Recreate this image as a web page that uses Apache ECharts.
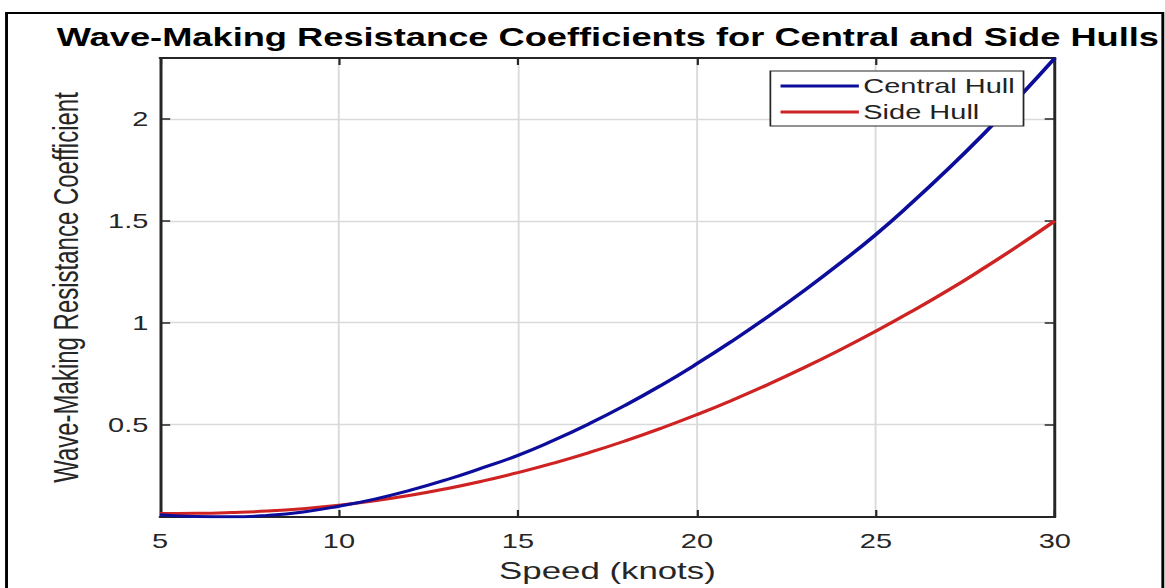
<!DOCTYPE html>
<html>
<head>
<meta charset="utf-8">
<title>Wave-Making Resistance Coefficients</title>
<script src="https://cdn.jsdelivr.net/npm/echarts@6/dist/echarts.min.js"></script>
<style>
  html, body { margin: 0; padding: 0; background: #fff; overflow: hidden; }
  /* the source picture is stretched sideways, so the chart is drawn narrow and scaled */
  #chart { width: 803px; height: 588px; transform: scaleX(1.4508); transform-origin: 0 0; }
</style>
</head>
<body>
<div id="chart"></div>
<script>
// speeds (knots)
const speeds = [5, 6, 7, 8, 9, 10, 11, 12, 13, 14, 15, 16, 17, 18, 19, 20, 21, 22, 23, 24, 25, 26, 27, 28, 29, 30]
const centralHull = [0.056, 0.047, 0.046, 0.053, 0.07, 0.098, 0.133, 0.177, 0.228, 0.286, 0.348, 0.422, 0.504, 0.594, 0.692, 0.798, 0.911, 1.031, 1.158, 1.292, 1.433, 1.588, 1.752, 1.925, 2.108, 2.3]
const sideHull = [0.062, 0.063, 0.067, 0.074, 0.086, 0.103, 0.125, 0.152, 0.184, 0.221, 0.263, 0.31, 0.362, 0.419, 0.481, 0.548, 0.62, 0.697, 0.779, 0.866, 0.958, 1.055, 1.157, 1.266, 1.38, 1.5]
const yTicks = [0.5, 1, 1.5, 2]

const font = 'Liberation Sans, Arial, sans-serif'
const boxColor = '#262626'

const chart = echarts.init(document.getElementById('chart'), null, { renderer: 'svg' })

const hiddenAxis = {
  axisLine: { show: true, lineStyle: { color: boxColor, width: 2 } },
  axisTick: { show: true, inside: true, length: 7, lineStyle: { color: boxColor, width: 1.5 } },
  axisLabel: { show: false },
  splitLine: { show: false }
}

const option = {
  animation: false,
  backgroundColor: '#fff',
  title: {
    text: 'Wave-Making Resistance Coefficients for Central and Side Hulls',
    left: 419,
    top: 25,
    padding: 0,
    textAlign: 'center',
    textStyle: { fontFamily: font, fontSize: 25, fontWeight: 'bold', color: '#000' }
  },
  graphic: [
    {
      type: 'rect',
      silent: true,
      shape: { x: 4.5, y: 13, width: 797, height: 600 },
      style: { fill: null, stroke: '#000', lineWidth: 2 }
    }
  ],
  legend: {
    orient: 'vertical',
    left: 531,
    top: 71,
    icon: 'rect',
    itemWidth: 54,
    itemHeight: 3,
    itemGap: 6,
    padding: [5, 6, 4, 7],
    backgroundColor: '#fff',
    borderColor: boxColor,
    borderWidth: 1.2,
    borderRadius: 0,
    textStyle: { fontFamily: font, fontSize: 20, color: '#222', padding: [0, 0, 0, -2] },
    data: ['Central Hull', 'Side Hull']
  },
  grid: { left: 110.3, right: 75.9, top: 58, bottom: 67, containLabel: false },
  xAxis: [
    {
      type: 'value',
      min: 5,
      max: 30,
      interval: 5,
      name: 'Speed (knots)',
      nameLocation: 'middle',
      nameGap: 42,
      nameTextStyle: { fontFamily: font, fontSize: 24, color: '#262626' },
      axisLine: { show: true, lineStyle: { color: boxColor, width: 2 } },
      axisTick: { show: true, inside: true, length: 7, lineStyle: { color: boxColor, width: 1.5 } },
      axisLabel: { fontFamily: font, fontSize: 20, color: '#262626', margin: 14 },
      splitLine: { show: true, lineStyle: { color: '#dadada', width: 1.3 } }
    },
    Object.assign({ type: 'value', min: 5, max: 30, interval: 5, position: 'top' }, hiddenAxis)
  ],
  yAxis: [
    {
      type: 'value',
      min: 0.045,
      max: 2.3,
      name: 'Wave-Making Resistance Coefficient',
      nameLocation: 'middle',
      nameGap: 53,
      nameTextStyle: { fontFamily: font, fontSize: 24, color: '#262626' },
      axisLine: { show: true, lineStyle: { color: boxColor, width: 2 } },
      axisTick: { show: true, inside: true, length: 7, customValues: yTicks, lineStyle: { color: boxColor, width: 1.5 } },
      axisLabel: { fontFamily: font, fontSize: 20, color: '#262626', margin: 8, customValues: yTicks },
      splitLine: { show: true, lineStyle: { color: '#dadada', width: 1.3 } }
    },
    Object.assign({}, hiddenAxis, {
      type: 'value',
      min: 0.045,
      max: 2.3,
      position: 'right',
      axisTick: { show: true, inside: true, length: 7, customValues: yTicks, lineStyle: { color: boxColor, width: 1.5 } }
    })
  ],
  series: [
    {
      name: 'Central Hull',
      type: 'line',
      symbol: 'none',
      smooth: true,
      data: speeds.map((v, i) => [v, centralHull[i]]),
      lineStyle: { color: '#0d0d9c', width: 3 },
      itemStyle: { color: '#0d0d9c' },
      z: 3
    },
    {
      name: 'Side Hull',
      type: 'line',
      symbol: 'none',
      smooth: true,
      data: speeds.map((v, i) => [v, sideHull[i]]),
      lineStyle: { color: '#cf2222', width: 3 },
      itemStyle: { color: '#cf2222' },
      z: 2
    }
  ]
}

chart.setOption(option)
</script>
</body>
</html>
